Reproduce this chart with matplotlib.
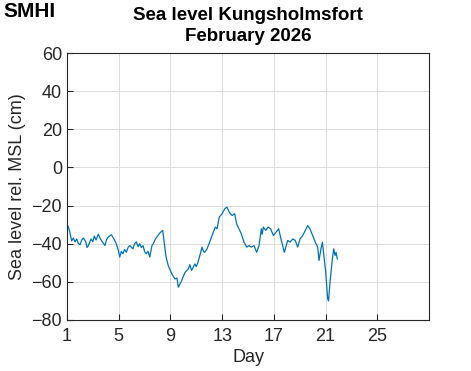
import numpy as np
import matplotlib
matplotlib.use("Agg")
import matplotlib.pyplot as plt

# sea level readings (day of month, cm rel. MSL)
days = [1.00, 1.10, 1.22, 1.36, 1.49, 1.62, 1.75, 1.88, 2.01, 2.14, 2.26, 2.45, 2.55, 2.65,
        2.86, 3.00, 3.11, 3.25, 3.42, 3.55, 3.68, 3.94, 4.05, 4.19, 4.43, 4.63, 4.81,
        4.95, 5.08, 5.20, 5.33, 5.45, 5.59, 5.72, 5.85, 6.10, 6.23, 6.36, 6.50, 6.62,
        6.75, 6.88, 7.00, 7.13, 7.27, 7.40, 7.57, 7.67, 7.80, 7.94, 8.19, 8.40, 8.66,
        8.83, 9.10, 9.35, 9.50, 9.61, 9.87, 10.00, 10.13, 10.38, 10.50, 10.64, 10.88,
        11.00, 11.13, 11.31, 11.44, 11.55, 11.65, 11.83, 12.08, 12.27, 12.47, 12.60,
        12.78, 12.99, 13.20, 13.37, 13.45, 13.55, 13.76, 13.97, 14.12, 14.30, 14.48,
        14.69, 14.90, 15.08, 15.25, 15.46, 15.67, 15.85, 16.03, 16.10, 16.18, 16.37,
        16.55, 16.75, 16.96, 17.16, 17.37, 17.55, 17.81, 18.07, 18.25, 18.46, 18.66,
        18.84, 19.02, 19.23, 19.43, 19.62, 19.79, 20.00, 20.20, 20.39, 20.49, 20.64,
        20.75, 20.88, 21.01, 21.16, 21.23, 21.34, 21.52, 21.63, 21.73, 21.81, 21.91]
level = [-30, -31, -34, -38.5, -37, -39, -37.5, -40, -40.5, -38, -37, -39, -42, -41,
         -37.5, -39, -36, -38, -35, -37, -38.5, -41, -38, -36.5, -35.3, -37.5, -40,
         -43, -47, -44, -45.3, -43, -44.5, -42, -41, -42.7, -40, -39, -41.5, -40,
         -42, -41, -44, -45.3, -44, -47, -41, -40, -38, -36.5, -34.3, -33, -47,
         -51.5, -55.8, -58.5, -58, -62.8, -59.3, -57, -55, -53.2, -51, -54, -50.6,
         -52, -49.7, -45.3, -41.8, -44, -44.5, -42.7, -38.3, -34.8, -31.3, -32.2,
         -26, -24.3, -21.7, -20.8, -22, -23.5, -25.2, -24.3, -29.6, -32.2, -34.8,
         -39.2, -41.8, -41, -41.8, -41, -44.5, -41, -32.2, -35, -31.3, -33,
         -31.3, -32.2, -35.7, -34, -32.2, -37.5, -44.5, -38.3, -39.2, -37.5, -38.3,
         -41.8, -37.5, -35.7, -33, -30.5, -32.2, -35.7, -39.2, -41.8, -48.8, -42.7,
         -39.2, -47, -55, -69, -70, -60.2, -48, -42.7, -46.2, -44.5, -48]

xticks = [1, 5, 9, 13, 17, 21, 25]
yticks = [-80, -60, -40, -20, 0, 20, 40, 60]

plt.rcParams['font.family'] = ['Liberation Sans', 'DejaVu Sans']

fig = plt.figure(figsize=(4.71, 3.71), dpi=100)
ax = fig.add_axes([0.1423, 0.1375, 0.7686, 0.7196])

ax.plot(days, level, color='#0072BD', linewidth=0.9)

ax.set_xlim(1, 29)
ax.set_ylim(-80, 60)
ax.set_xticks(xticks)
ax.set_yticks(yticks)
ax.set_yticklabels([str(v).replace('-', '\u2212') for v in yticks])
ax.grid(True, color='#dcdcdc', linewidth=0.7)
ax.set_axisbelow(True)
ax.tick_params(direction='in', length=4, labelsize=13, colors='#262626', width=0.8)
ax.tick_params(axis='x', pad=6)
for s in ax.spines.values():
    s.set_color('#262626')
    s.set_linewidth(0.8)

ax.set_xlabel('Day', fontsize=13, color='#262626', labelpad=3)
ax.set_ylabel('Sea level rel. MSL (cm)', fontsize=13, color='#262626', labelpad=4)
ax.set_title('Sea level Kungsholmsfort\nFebruary 2026', fontsize=13.5, fontweight='bold',
             color='black', pad=9, linespacing=1.3)

fig.text(0.008, 0.995, 'SMHI', fontsize=15, fontweight='bold', ha='left', va='top',
         color='black')

fig.savefig('out.png', dpi=100)
